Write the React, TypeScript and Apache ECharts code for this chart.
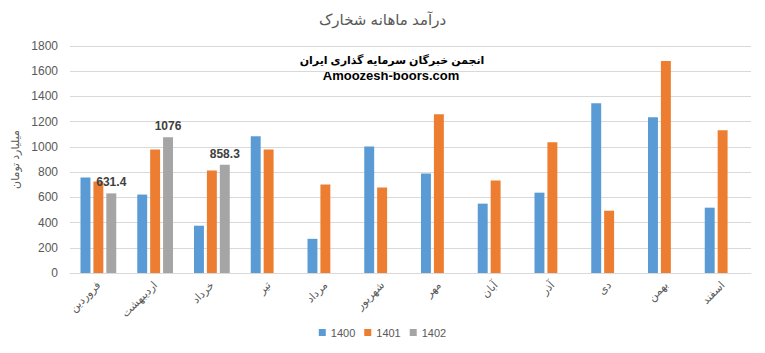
import React, { useEffect, useRef } from "react";
import * as echarts from "echarts";

const categories = ["فروردین", "اردیبهشت", "خرداد", "تیر", "مرداد", "شهریور", "مهر", "آبان", "آذر", "دی", "بهمن", "اسفند"];
const values1400 = [757, 622, 375, 1084, 271, 1004, 789, 550, 637, 1347, 1235, 518];
const values1401 = [725, 980, 813, 980, 701, 677, 1259, 733, 1036, 494, 1681, 1132];
const values1402: (number | null)[] = [631.4, 1076, 858.3, null, null, null, null, null, null, null, null, null];
const seriesNames = ["1400", "1401", "1402"];
const colors = ["#5B9BD5", "#ED7D31", "#A5A5A5"];

const FONT = "'Liberation Sans', 'DejaVu Sans', sans-serif";

export default function App() {
  const ref = useRef<HTMLDivElement>(null);
  useEffect(() => {
    if (!ref.current) return;
    const chart = echarts.init(ref.current, undefined, { renderer: "svg" });
    chart.setOption({
      animation: false,
      textStyle: { fontFamily: FONT },
      title: {
        text: "درآمد ماهانه شخارک",
        left: "center",
        top: 7,
        textStyle: { fontSize: 15, fontWeight: "normal", color: "#595959", fontFamily: FONT },
      },
      graphic: [
        {
          type: "text",
          x: 392,
          y: 60,
          style: {
            text: "انجمن خبرگان سرمایه گذاری ایران",
            fontSize: 11,
            fontWeight: "bold",
            fill: "#000",
            fontFamily: FONT,
            align: "center",
            verticalAlign: "middle",
          },
        },
        {
          type: "text",
          x: 391,
          y: 75,
          style: {
            text: "Amoozesh-boors.com",
            fontSize: 13,
            fontWeight: "bold",
            fill: "#000",
            fontFamily: FONT,
            align: "center",
            verticalAlign: "middle",
          },
        },
      ],
      legend: {
        bottom: 10,
        left: "center",
        itemWidth: 7,
        itemHeight: 7,
        itemGap: 9,
        icon: "rect",
        textStyle: { fontSize: 11, color: "#595959", fontFamily: FONT },
        data: seriesNames,
      },
      grid: { left: 70, right: 14, top: 46, bottom: 80, containLabel: false },
      xAxis: {
        type: "category",
        data: categories,
        axisLine: { lineStyle: { color: "#D9D9D9" } },
        axisTick: { show: false },
        axisLabel: { rotate: 45, fontSize: 11, color: "#595959", margin: 10, interval: 0, fontFamily: FONT },
      },
      yAxis: {
        type: "value",
        min: 0,
        max: 1800,
        interval: 200,
        name: "میلیارد تومان",
        nameLocation: "middle",
        nameGap: 40,
        nameTextStyle: { fontSize: 11, color: "#595959", fontFamily: FONT },
        axisLine: { show: false },
        axisTick: { show: false },
        axisLabel: { fontSize: 12, color: "#595959", margin: 12, fontFamily: FONT, formatter: (v: number) => String(v) },
        splitLine: { lineStyle: { color: "#D9D9D9" } },
      },
      series: [
        { name: seriesNames[0], type: "bar", data: values1400, itemStyle: { color: colors[0] }, barGap: "30%", barCategoryGap: "37%" },
        { name: seriesNames[1], type: "bar", data: values1401, itemStyle: { color: colors[1] } },
        {
          name: seriesNames[2],
          type: "bar",
          data: values1402,
          itemStyle: { color: colors[2] },
          label: { show: true, position: "top", fontSize: 12, fontWeight: "bold", color: "#404040", distance: 5, fontFamily: FONT },
        },
      ],
    });
    return () => chart.dispose();
  }, []);
  return <div ref={ref} style={{ width: 765, height: 353, position: "absolute", left: 0, top: 0 }} />;
}
